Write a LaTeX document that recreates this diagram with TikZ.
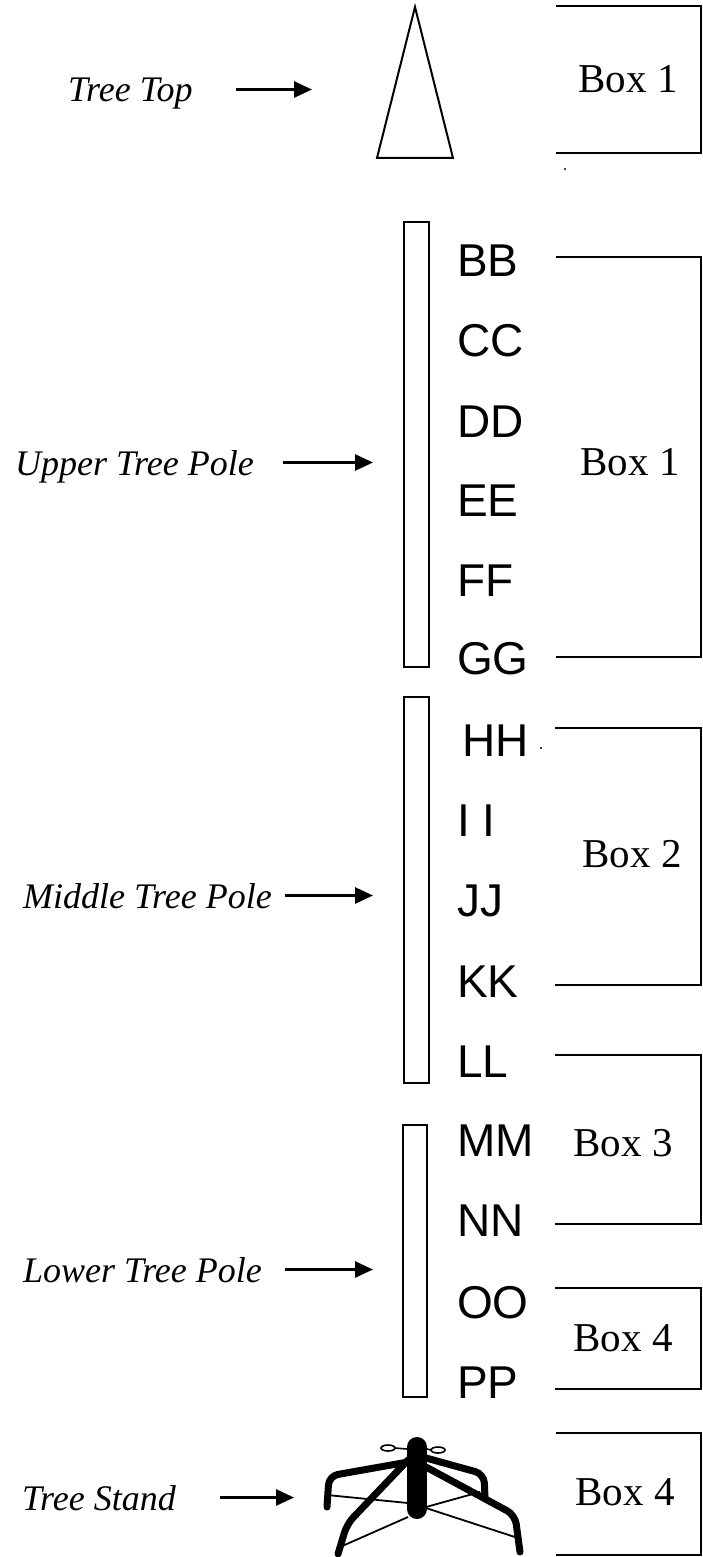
\documentclass[tikz,border=0pt]{standalone}
\usepackage{fontspec}
\setmainfont{Liberation Serif}
\newfontfamily\tagfont{Liberation Sans}
\usetikzlibrary{arrows.meta}

\begin{document}
\begin{tikzpicture}[x=1pt, y=-1pt,
    tag/.style={anchor=base west, inner sep=0pt, font=\tagfont\fontsize{46}{55}\selectfont},
    part/.style={anchor=base west, inner sep=0pt, text height=25pt, text depth=0pt, font=\itshape\fontsize{36}{43}\selectfont},
    boxlabel/.style={inner sep=0pt, font=\fontsize{41}{49}\selectfont},
    pole/.style={draw, line width=1.5pt, inner sep=0pt},
    bracket/.style={line width=2pt},
    pointer/.style={-{Triangle[length=18pt, width=16pt]}, line width=2.8pt},
    leg/.style={line width=7pt, line cap=round, rounded corners=9pt},
    rod/.style={line width=1.8pt}]
    \useasboundingbox (0,0) rectangle (702,1557);

    \node[part] (tree_top) at (68, 102) {Tree Top};
    \node[part] (upper_tree) at (15, 475) {Upper Tree Pole};
    \node[part] (middle_tree) at (23, 908) {Middle Tree Pole};
    \node[part] (lower_tree) at (23, 1282) {Lower Tree Pole};
    \node[part] (tree_stand) at (22, 1510) {Tree Stand};

    \draw[line width=2pt] (415, 7) -- (453, 158) -- (377, 158) -- cycle;
    \node[pole, minimum width=25pt, minimum height=445pt] (upper_pole) at (416.5, 444.5) {};
    \node[pole, minimum width=25pt, minimum height=386pt] (middle_pole) at (416.5, 890) {};
    \node[pole, minimum width=24pt, minimum height=272pt] (lower_pole) at (415, 1261) {};

    \coordinate (top_tip) at (312, 89.5);
    \coordinate (upper_tip) at (373, 462.5);
    \coordinate (middle_tip) at (373, 895.5);
    \coordinate (lower_tip) at (373, 1269.5);
    \coordinate (stand_tip) at (294, 1497.5);
    \draw[pointer, shorten <=43pt] (tree_top.east) -- (top_tip);
    \draw[pointer, shorten <=29pt] (upper_tree.east) -- (upper_tip);
    \draw[pointer, shorten <=13pt] (middle_tree.east) -- (middle_tip);
    \draw[pointer, shorten <=23pt] (lower_tree.east) -- (lower_tip);
    \draw[pointer, shorten <=44pt] (tree_stand.east) -- (stand_tip);

    \node[tag] (bb) at (457, 276.5) {BB};
    \node[tag] (cc) at (457, 356.5) {CC};
    \node[tag] (dd) at (457, 437.5) {DD};
    \node[tag] (ee) at (457, 516.5) {EE};
    \node[tag] (ff) at (457, 596.5) {FF};
    \node[tag] (gg) at (457, 674.5) {GG};
    \node[tag] (hh) at (462, 756.5) {HH};
    \node[tag] (ii) at (457, 836.5) {I I};
    \node[tag] (jj) at (457, 916.5) {JJ};
    \node[tag] (kk) at (457, 997.5) {KK};
    \node[tag] (ll) at (457, 1077.5) {LL};
    \node[tag] (mm) at (457, 1156.5) {MM};
    \node[tag] (nn) at (457, 1236.5) {NN};
    \node[tag] (oo) at (457, 1318.5) {OO};
    \node[tag] (pp) at (457, 1398.5) {PP};

    \node[boxlabel] (box_top) at (628, 79) {Box 1};
    \node[boxlabel] (bb_gg) at (630, 462) {Box 1};
    \node[boxlabel] (hh_kk) at (632, 854) {Box 2};
    \node[boxlabel] (ll_nn) at (623, 1143) {Box 3};
    \node[boxlabel] (oo_pp) at (623, 1338) {Box 4};
    \node[boxlabel] (box_stand) at (625, 1492) {Box 4};

    \coordinate (rim) at (701, 0);
    \coordinate (top_in) at (556, 6);
    \coordinate (top_out) at (556, 153);
    \coordinate (bb_in) at (556, 257);
    \coordinate (gg_in) at (556, 657);
    \coordinate (hh_in) at (555, 728);
    \coordinate (kk_in) at (555, 985);
    \coordinate (ll_in) at (555, 1055);
    \coordinate (nn_in) at (555, 1224);
    \coordinate (oo_in) at (555, 1288);
    \coordinate (pp_in) at (555, 1389);
    \coordinate (stand_in) at (556, 1433);
    \coordinate (stand_out) at (556, 1555);

    \draw[bracket, line width=2.6pt] (top_in) -| (rim |- top_out) -- (top_out);
    \draw[bracket] (bb_in) -| (rim |- gg_in) -- (gg_in);
    \draw[bracket] (hh_in) -| (rim |- kk_in) -- (kk_in);
    \draw[bracket] (ll_in) -| (rim |- nn_in) -- (nn_in);
    \draw[bracket] (oo_in) -| (rim |- pp_in) -- (pp_in);
    \draw[bracket, line width=2.6pt] (stand_in) -| (rim |- stand_out) -- (stand_out);

    \fill (565, 169) circle (1.2pt);
    \fill (541, 748) circle (1.2pt);

    \draw[rod] (327, 1495) -- (408, 1503);
    \draw[rod] (480, 1492) -- (426, 1507);
    \draw[rod] (408, 1517) -- (340, 1547);
    \draw[rod] (426, 1508) -- (518, 1538);
    \draw[leg] (408, 1462) -- (329, 1476) -- (327, 1507);
    \draw[leg] (408, 1460) -- (347, 1524) -- (338, 1554);
    \draw[leg] (426, 1458) -- (484, 1474) -- (485, 1498);
    \draw[leg] (426, 1467) -- (515, 1515) -- (520, 1552);
    \draw[line width=20pt, line cap=round] (417, 1447) -- (417, 1509);
    \draw[line width=1.6pt] (395, 1448) -- (407, 1449);
    \draw[line width=1.6pt] (388, 1448) ellipse (7pt and 3pt);
    \draw[line width=1.6pt] (427, 1449) -- (431, 1450);
    \draw[line width=1.6pt] (438, 1450) ellipse (7pt and 3pt);
  \end{tikzpicture}
\end{document}
